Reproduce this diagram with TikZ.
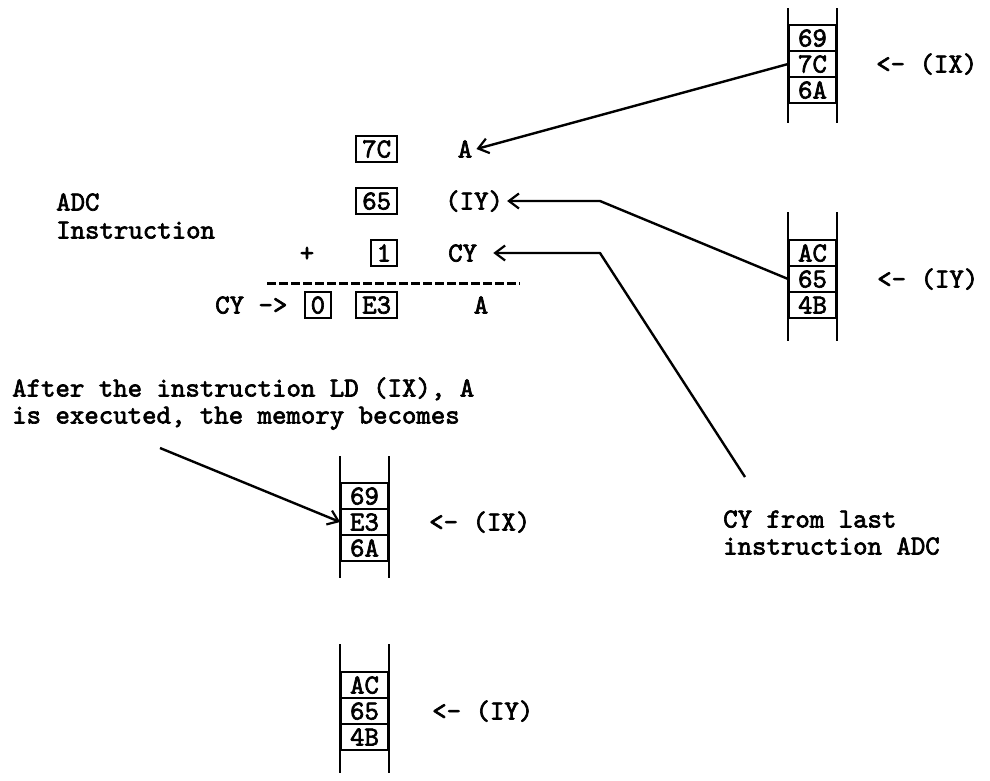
\documentclass[tikz,border=0pt]{standalone}
\usepackage{fontspec}
\newfontfamily\tw[FakeBold=2.4]{lmmono10-regular.otf}
\usetikzlibrary{arrows.meta}
\begin{document}
\begin{tikzpicture}[x=1pt,y=-1pt,
  txt/.style={font=\tw\fontsize{27.5}{32}\selectfont, inner sep=0pt, text height=17pt, text depth=0pt},
  vbox/.style={txt, draw, line width=1.8pt, inner xsep=6pt, inner ysep=4.5pt},
  cell/.style={txt, draw, line width=1.8pt, minimum width=47pt, minimum height=26pt},
  rail/.style={line width=2.2pt},
  conn/.style={line width=2.4pt, line join=round},
  tip/.style={-{Straight Barb[length=10pt,width=15pt,line width=2.2pt]}}]
\useasboundingbox (0,0) rectangle (990,780);
% stack 1
\node[cell] (s1a) at (812.5,38) {69};
\node[cell] (s1b) at (812.5,64) {7C};
\node[cell] (s1c) at (812.5,90) {6A};
\draw[rail] ([yshift=16pt]s1a.north west) -- ([yshift=-19pt]s1c.south west);
\draw[rail] ([yshift=16pt]s1a.north east) -- ([yshift=-19pt]s1c.south east);
\node[txt, anchor=west] (p1) at (876,64) {<- (IX)};
% stack 2
\node[cell] (s2a) at (812.5,253) {AC};
\node[cell] (s2b) at (812.5,279) {65};
\node[cell] (s2c) at (812.5,305) {4B};
\draw[rail] ([yshift=27pt]s2a.north west) -- ([yshift=-22pt]s2c.south west);
\draw[rail] ([yshift=27pt]s2a.north east) -- ([yshift=-22pt]s2c.south east);
\node[txt, anchor=west] (p2) at (877,279) {<- (IY)};
% stack 3
\node[cell] (s3a) at (364.5,496) {69};
\node[cell] (s3b) at (364.5,522) {E3};
\node[cell] (s3c) at (364.5,548) {6A};
\draw[rail] ([yshift=26pt]s3a.north west) -- ([yshift=-16pt]s3c.south west);
\draw[rail] ([yshift=26pt]s3a.north east) -- ([yshift=-16pt]s3c.south east);
\node[txt, anchor=west] (p3) at (429,522) {<- (IX)};
% stack 4
\node[cell] (s4a) at (364.5,685) {AC};
\node[cell] (s4b) at (364.5,711) {65};
\node[cell] (s4c) at (364.5,737) {4B};
\draw[rail] ([yshift=27pt]s4a.north west) -- ([yshift=-22pt]s4c.south west);
\draw[rail] ([yshift=27pt]s4a.north east) -- ([yshift=-22pt]s4c.south east);
\node[txt, anchor=west] (p4) at (432,711) {<- (IY)};
% ADC computation
\node[vbox, anchor=east] (b7c) at (398,149) {7C};
\node[vbox, anchor=east] (b65) at (398,201) {65};
\node[vbox, anchor=east] (b1) at (398,253) {1};
\node[vbox, anchor=east] (be3) at (398,305) {E3};
\node[vbox, anchor=east] (b0) at (332,305) {0};
\node[txt] (tA) at (465,149) {A};
\node[txt, anchor=west] (tIY) at (445,201) {(IY)};
\node[txt, anchor=west] (tCY) at (448,253) {CY};
\node[txt] (plus) at (307,253) {+};
\node[txt] (tA2) at (481,305) {A};
\node[txt, anchor=west] (tcy) at (215,305) {CY ->};
\node[txt, anchor=west] (adc) at (56,202) {ADC};
\node[txt, anchor=west] (ins) at (56,230) {Instruction};
\coordinate (d1) at (267,283);
\coordinate (d2) at (520,283);
\draw[line width=3pt, dash pattern=on 8.5pt off 3.5pt] (d1) -- (d2);
% notes
\node[txt, anchor=west] (aft1) at (12,388) {After the instruction LD (IX), A};
\node[txt, anchor=west] (aft2) at (12,415) {is executed, the memory becomes};
\node[txt, anchor=west] (cy1) at (723,519) {CY from last};
\node[txt, anchor=west] (cy2) at (723,546) {instruction ADC};
% connectors
\draw[conn,tip] (s1b.west) -- ([xshift=4pt]tA.east);
\coordinate (k1) at (600,201);
\draw[conn,tip] (s2b.west) -- (k1) -- ([xshift=4pt]tIY.east);
\coordinate (k2) at (600,253);
\coordinate (cyend) at (745,477);
\draw[conn,tip] (cyend) -- (k2) -- ([xshift=16pt]tCY.east);
\coordinate (aftstart) at (160,448);
\draw[conn,tip] (aftstart) -- (s3b.west);
\end{tikzpicture}
\end{document}
